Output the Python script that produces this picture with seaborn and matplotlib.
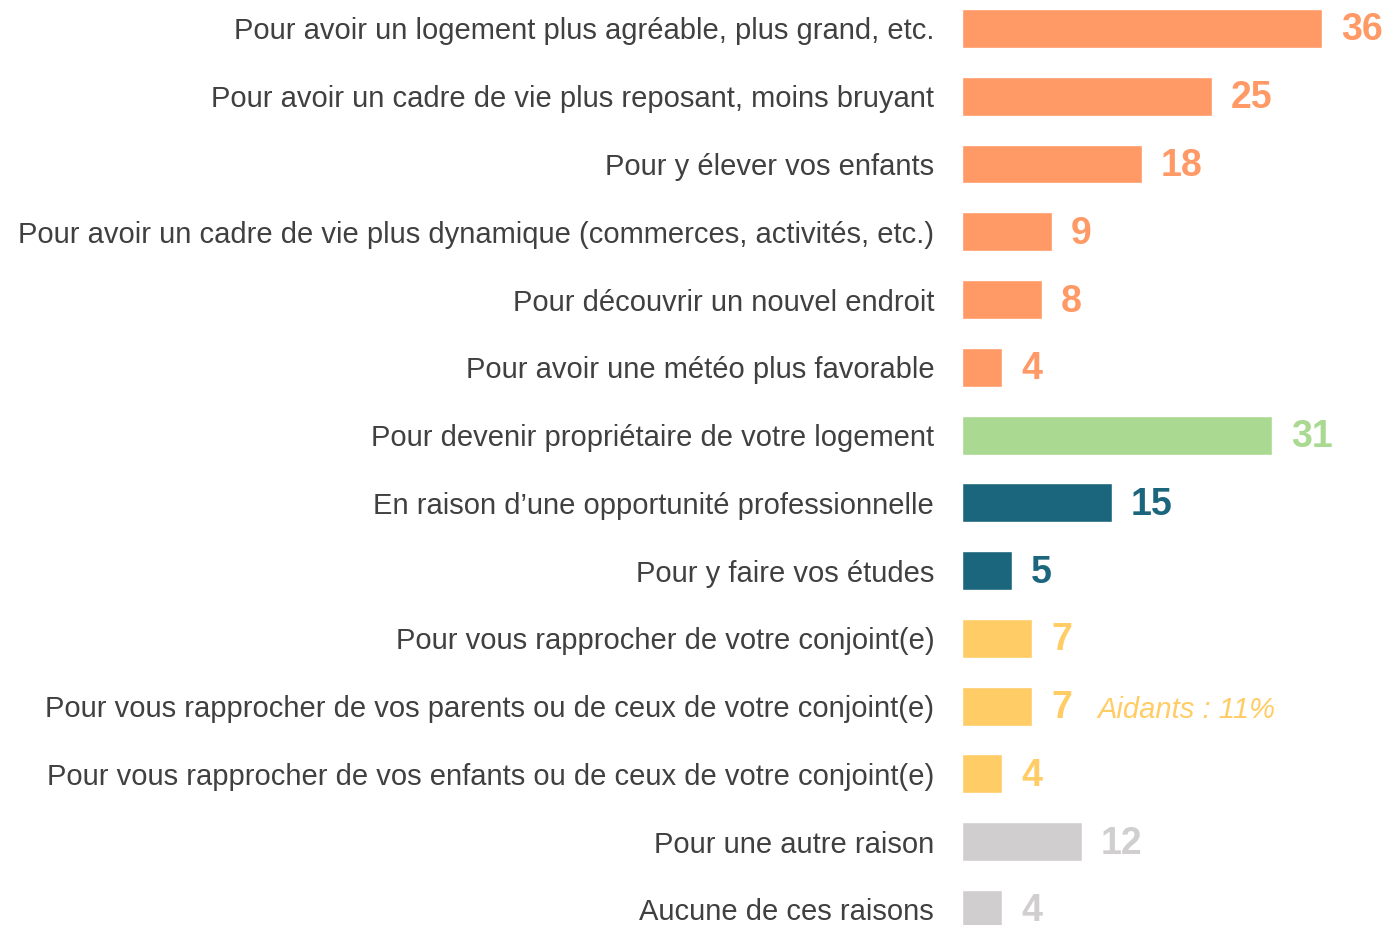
import matplotlib
matplotlib.use("Agg")
import matplotlib.pyplot as plt
import seaborn as sns
import pandas as pd

# Reasons for moving, share of respondents (%)
categories = [
    "Pour avoir un logement plus agréable, plus grand, etc.",
    "Pour avoir un cadre de vie plus reposant, moins bruyant",
    "Pour y élever vos enfants",
    "Pour avoir un cadre de vie plus dynamique (commerces, activités, etc.)",
    "Pour découvrir un nouvel endroit",
    "Pour avoir une météo plus favorable",
    "Pour devenir propriétaire de votre logement",
    "En raison d\u2019une opportunité professionnelle",
    "Pour y faire vos études",
    "Pour vous rapprocher de votre conjoint(e)",
    "Pour vous rapprocher de vos parents ou de ceux de votre conjoint(e)",
    "Pour vous rapprocher de vos enfants ou de ceux de votre conjoint(e)",
    "Pour une autre raison",
    "Aucune de ces raisons",
]
values = [36, 25, 18, 9, 8, 4, 31, 15, 5, 7, 7, 4, 12, 4]
groups = ["cadre", "cadre", "cadre", "cadre", "cadre", "cadre",
          "propriete", "travail", "travail",
          "famille", "famille", "famille",
          "autre", "autre"]
group_colors = {
    "cadre": "#FF9966",
    "propriete": "#AAD991",
    "travail": "#1C667D",
    "famille": "#FFCC66",
    "autre": "#D0CECE",
}
aidants_note = "Aidants : 11%"

df = pd.DataFrame({"raison": categories, "valeur": values, "groupe": groups})
bar_colors = [group_colors[g] for g in groups]

sns.set_theme(style="white")
plt.rcParams["font.family"] = ["Liberation Sans", "DejaVu Sans"]

fig = plt.figure(figsize=(13.91, 9.25), dpi=100)
ax = fig.add_axes([962 / 1391, 0.0, (1391 - 962) / 1391, 1.0])

sns.barplot(data=df, x="valeur", y="raison", hue="raison",
            palette=bar_colors, legend=False, width=0.575,
            orient="h", ax=ax, saturation=1)

ax.set_xlim(0, 42.9)
ax.set_ylim(13.229, -0.42)
ax.set_xlabel("")
ax.set_ylabel("")
ax.set_xticks([])
ax.tick_params(axis="y", length=0, pad=20, labelsize=21, labelcolor="#404040")
sns.despine(ax=ax, left=True, bottom=True)

for i, (v, c) in enumerate(zip(values, bar_colors)):
    ax.annotate(str(v), xy=(v, i), xytext=(19, -2), textcoords="offset pixels",
                ha="left", va="center", fontsize=27, fontweight="bold", color=c)

ax.text(13.5, 10.05, aidants_note, ha="left", va="center", fontsize=21,
        fontstyle="italic", color=group_colors["famille"])

fig.savefig("out.png", dpi=100)
